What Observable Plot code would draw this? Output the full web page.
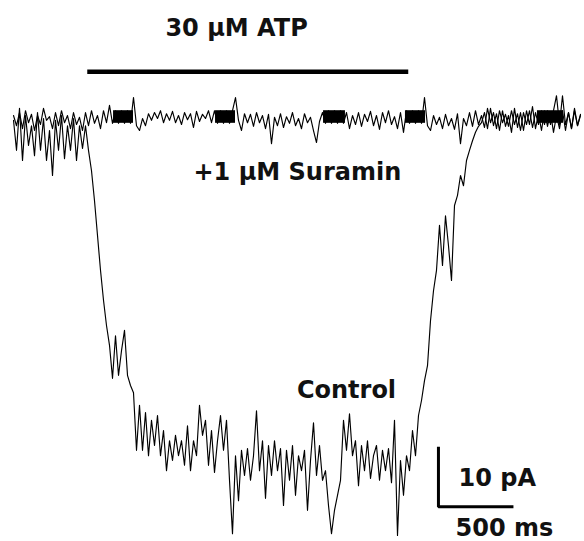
<!DOCTYPE html>
<html>
<head>
<meta charset="utf-8">
<script src="https://cdn.jsdelivr.net/npm/d3@7"></script>
<script src="https://cdn.jsdelivr.net/npm/@observablehq/plot@0.6"></script>
<style>
  html, body { margin: 0; padding: 0; background: #fff; }
  #chart svg { display: block; }
</style>
</head>
<body>
<div id="chart"></div>
<script>
// Whole-cell current recordings (pA), sampled every 20 ms
const sampleIntervalMs = 20;

const controlPA = [
  -0.3, -5.3, 1.7, -7, 0.5, -4.5, -1.2, -6.2, 1, -5.3,
  0, -7, -2, -9.5, -0.3, -5.3, 0.5, -6.7, -1.2, -5.3,
  0, -7, -1.2, -5, -1.2, -5.3, -8.7, -13.7, -19.5, -25.3,
  -30.3, -34.5, -37.8, -43.3, -36.2, -42.8, -38.7, -35.3, -42.8, -44.5,
  -45.7, -55.3, -47.8, -55.3, -49, -56.2, -50.3, -54.5, -49.5, -56.2,
  -52, -58.7, -53.7, -57, -52.8, -56.2, -53.7, -57.8, -51.2, -58.7,
  -53.7, -56.2, -47.8, -52.8, -50.3, -57.8, -52, -59, -53.7, -49.5,
  -55.3, -50.3, -60.3, -69.2, -56.2, -63.7, -55.3, -59.5, -55, -60.3,
  -56.2, -48.7, -58.7, -53.7, -63.3, -54.5, -59.5, -53.7, -58.7, -55,
  -64.5, -55.3, -60.3, -54.5, -62.8, -56.2, -58.7, -55.3, -65.3, -57,
  -50.7, -59.5, -54.5, -60.3, -58.7, -64.5, -69.2, -65.3, -62.8, -60.3,
  -50.3, -55.3, -49.2, -56.2, -53.7, -61.2, -54.5, -58.7, -53.7, -60,
  -56.2, -54.5, -60.3, -55.3, -58.7, -55, -60.7, -50.3, -69.5, -57,
  -62.8, -56.2, -58.7, -52, -56.2, -49.5, -47, -43.7, -41.2, -33.7,
  -28.7, -25.3, -17.8, -24.5, -16.2, -21.2, -27, -14.5, -12.8, -9.5,
  -11.2, -7, -5.3, -3.7, -2.3, -1.3, -0.7, 1, -1.7, 1.7,
  -1.2, 0.8, -2, 1.3, -1.3, 0.5, -2.3, 1.7, -1.5, 1,
  -2, 1.3, -1, 2, -1.7, 0.8, -2, 1.3, -1.3, 1,
  -2.3, 0.5, -1.7, 1.3, -2, 1, -1.7, 1.7, -1.2, 0.5
];

const suraminPA = [
  0.5, -1.2, 1, -1.7, 1.3, -0.7, 0.7, -2, 0.5, -1,
  1.7, -0.3, 0.3, -1.7, 1, -1.2, 1.3, -0.7, 0.5, -1.7,
  1, -1, 0.2, -2, 1, -1.2, 1.3, -0.8, 0.5, -1.7,
  1.3, -0.7, 2.2, -0.8, 1.3, -0.8, 1.3, -0.8, 1.3, -0.8,
  3.5, -1.2, -2, 0, -1.2, 0.8, -0.3, 1, 0, 1.3,
  -0.7, 0.8, -0.3, 1.2, -0.7, 0.5, -1, 1, -0.2, 0.8,
  -1.5, 1.2, -0.5, 0.7, 0, 1.3, -0.7, 1.3, -0.8, 1.3,
  -0.8, 1.3, -0.8, 1.3, 3.5, -0.3, -2, 0.8, -0.7, 0.7,
  -1.3, 1, -0.7, 0.5, -1.7, 0.7, -4.2, 0.2, -1.2, 0.8,
  -1.5, 0.3, -0.8, 1, -1.2, 0, -1.7, 0.8, -0.7, 0.2,
  -2, -4, -0.5, 1, -0.8, 1.3, -0.8, 1.3, -0.8, 1.3,
  -0.8, 1, -1.7, 0.5, -1, 1, -1.3, 0.7, -0.5, 1.2,
  -1.2, 0.5, -1.8, 1, -0.7, 1.3, -1, 0.3, -1.7, 1,
  -2.3, 1.3, -0.8, 1.3, -0.8, 1.3, -0.8, 3.5, -1.2, -2,
  0.5, -1, 0.2, -1.7, 0.7, -1.2, 0, -1.8, 0.8, -4.2,
  0, -1.2, 1, -1.3, 1.3, -1, 0.5, -1.5, 1.7, -0.7,
  1, -1.7, 1.3, -0.7, 0.7, -1.3, 1.3, -1, 0.8, -2,
  1, -1, 1.3, -1.5, 1, -1, 1.3, -1, 1.3, -1,
  1.3, 3.8, -1, 3.8, -1, 1, -1.7, 1.3, -1.2, 0.7
];

// Dense switching-artifact bursts on the baseline (ms, pA envelope)
const artifactStartMs = [667, 1347, 2067, 2613, 3493];
const artifactEndMs   = [800, 1480, 2213, 2747, 3667];
const artifactTopPA = 1.3;
const artifactBottomPA = -0.8;

// ATP application bar (ms) and its drawing level (pA)
const atpStartMs = 495;
const atpEndMs = 2635;
const atpBarLevelPA = 7.8;

// Scale bars
const scaleBarMs = 500;
const scaleBarPA = 10;
const scaleOriginMs = 2833;
const scaleOriginPA = -64.7;

// Labels
const labelText = ["30 \u00B5M ATP", "+1 \u00B5M Suramin", "Control", "10 pA", "500 ms"];
const labelMs = [1487, 1200, 2220, 2967, 2947];
const labelPA = [13.8, -10.3, -46.5, -61.2, -69.6];
const labelAnchor = ["middle", "start", "middle", "start", "start"];

const series = (arr) => arr.map((v, k) => ({t: k * sampleIntervalMs, i: v}));
const control = series(controlPA);
const suramin = series(suraminPA);
const artifacts = artifactStartMs.map((s, k) => ({s, e: artifactEndMs[k]}));
const labels = labelText.map((s, k) => ({s, t: labelMs[k], i: labelPA[k], a: labelAnchor[k]}));
const scaleBar = [
  {t: scaleOriginMs, i: scaleOriginPA + scaleBarPA},
  {t: scaleOriginMs, i: scaleOriginPA},
  {t: scaleOriginMs + scaleBarMs, i: scaleOriginPA}
];

const chart = Plot.plot({
  width: 584,
  height: 541,
  margin: 0,
  style: {background: "#fff", fontFamily: "'DejaVu Sans', sans-serif"},
  x: {domain: [-86.7, 3806.7], axis: null},
  y: {domain: [-70.5, 19.67], axis: null},
  marks: [
    Plot.line(control, {x: "t", y: "i", stroke: "#000", strokeWidth: 1.15}),
    Plot.line(suramin, {x: "t", y: "i", stroke: "#000", strokeWidth: 1.15}),
    Plot.rect(artifacts, {x1: "s", x2: "e", y1: artifactBottomPA, y2: artifactTopPA, fill: "#000"}),
    Plot.ruleY([atpBarLevelPA], {x1: atpStartMs, x2: atpEndMs, stroke: "#000", strokeWidth: 4.5}),
    Plot.line(scaleBar, {x: "t", y: "i", stroke: "#000", strokeWidth: 3, strokeLinejoin: "miter", strokeLinecap: "butt"}),
    ...labels.map(d => Plot.text([d], {
      x: "t", y: "i", text: "s", textAnchor: d.a, lineAnchor: "bottom",
      fontSize: 24, fontWeight: "bold", fill: "#111"
    }))
  ]
});
document.getElementById("chart").appendChild(chart);
</script>
</body>
</html>
